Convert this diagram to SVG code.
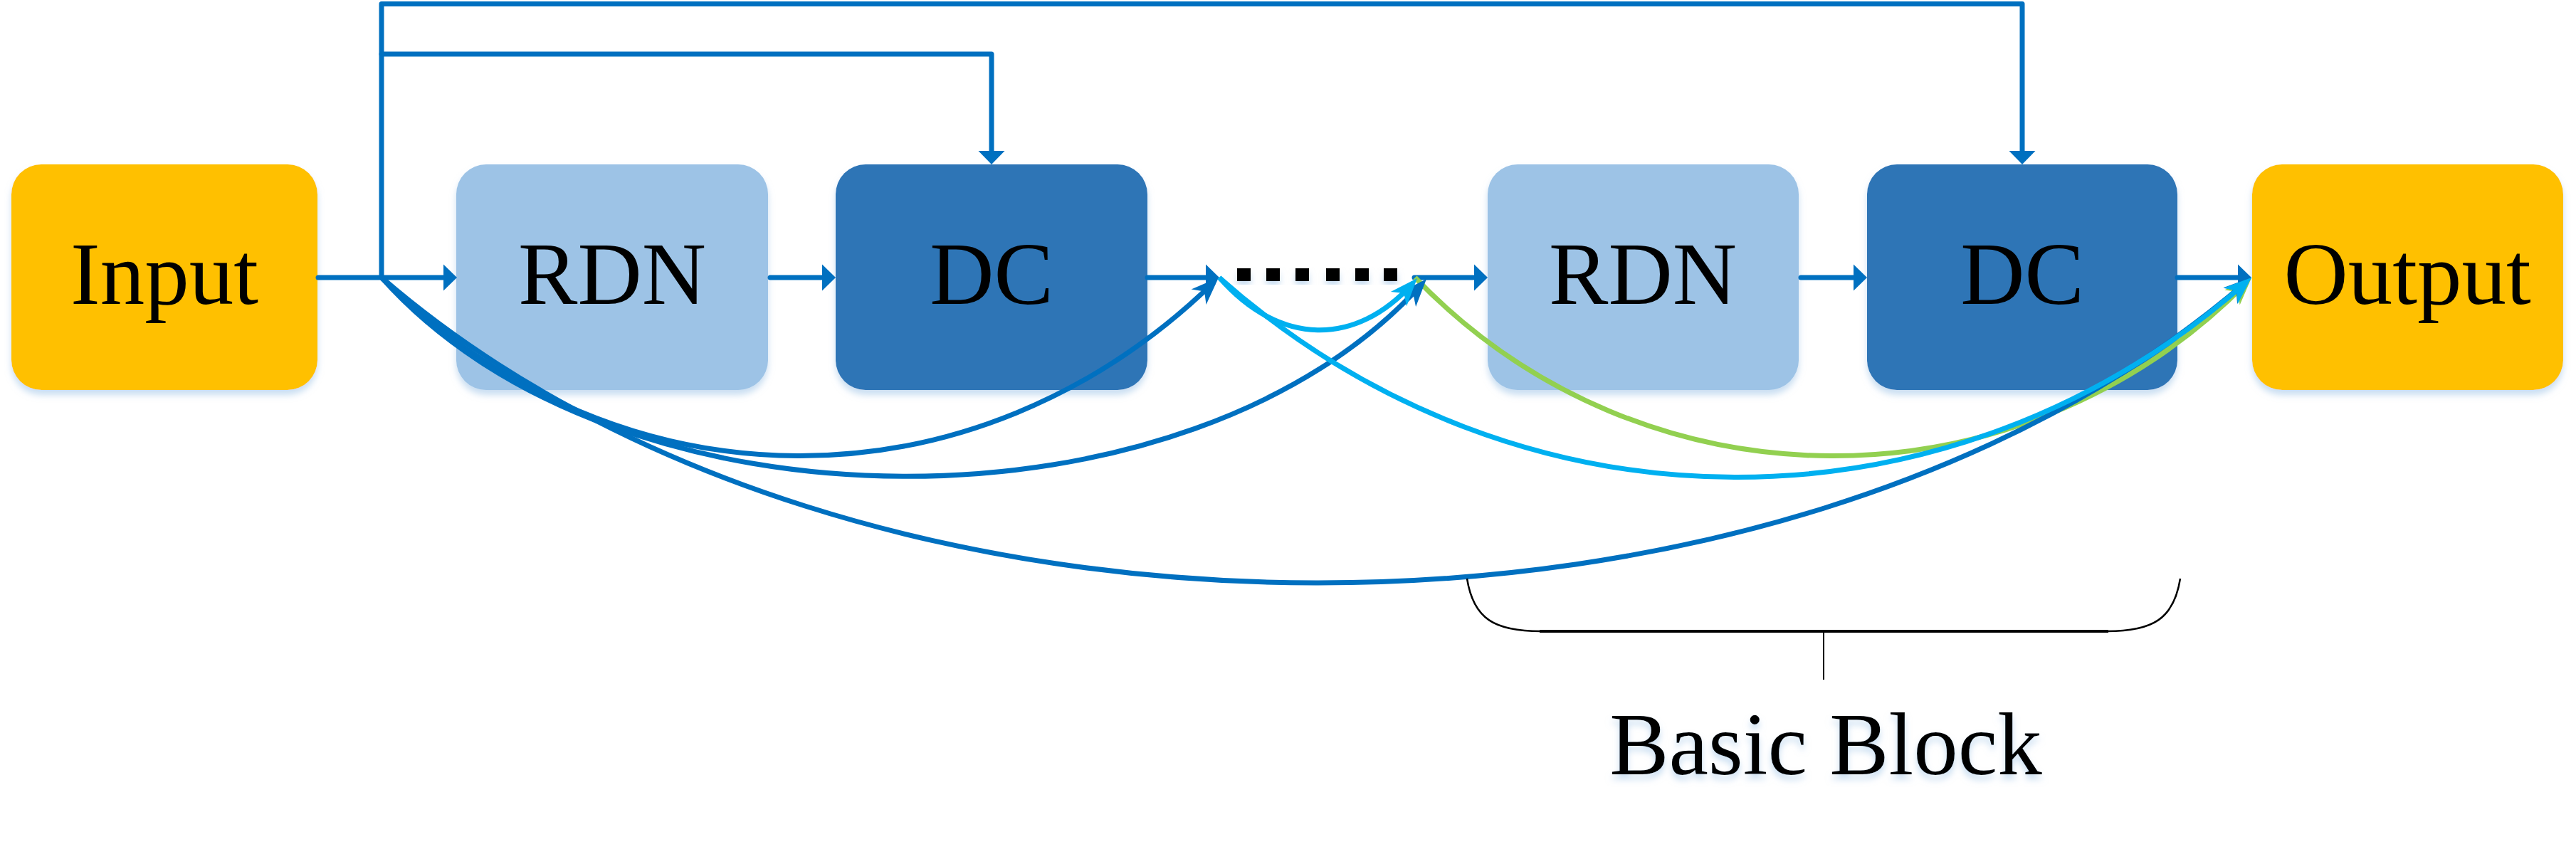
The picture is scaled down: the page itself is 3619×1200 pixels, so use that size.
<svg xmlns="http://www.w3.org/2000/svg" width="3619" height="1200" viewBox="0 0 3619 1200">
<style>
.box{filter:url(#sh);}
.lbl{font-family:"Liberation Serif","Times New Roman",serif;font-size:125px;fill:#000;text-anchor:middle;}
.ln{fill:none;stroke:#0070C0;stroke-width:7;stroke-linecap:round;stroke-linejoin:round;}
.cv{fill:none;stroke-width:7;stroke-linecap:butt;}
.dk{stroke:#0070C0;marker-end:url(#stD);}
.cy{stroke:#00B0F0;marker-end:url(#stC);}
.gr{stroke:#92D050;marker-end:url(#stG);}
.br{fill:none;stroke:#000;}
</style>
<defs>
<filter id="sh" x="-10%" y="-10%" width="120%" height="135%">
<feDropShadow dx="0" dy="7" stdDeviation="5" flood-color="#9DC3E6" flood-opacity="0.55"/>
</filter>
<marker id="tri" markerUnits="userSpaceOnUse" viewBox="0 -20 20 40" markerWidth="20" markerHeight="40" refX="0" refY="0" orient="auto" overflow="visible">
<path d="M0,-18.5 L19,0 L0,18.5 Z" fill="#0070C0"/>
</marker>
<marker id="stD" markerUnits="userSpaceOnUse" viewBox="-32 -17 44 34" markerWidth="44" markerHeight="34" refX="0" refY="0" orient="auto" overflow="visible">
<path d="M9,0 L-30,-15 L-19,0 L-30,15 Z" fill="#0070C0"/>
</marker>
<marker id="stC" markerUnits="userSpaceOnUse" viewBox="-32 -17 44 34" markerWidth="44" markerHeight="34" refX="0" refY="0" orient="auto" overflow="visible">
<path d="M9,0 L-30,-15 L-19,0 L-30,15 Z" fill="#00B0F0"/>
</marker>
<marker id="stG" markerUnits="userSpaceOnUse" viewBox="-32 -17 44 34" markerWidth="44" markerHeight="34" refX="0" refY="0" orient="auto" overflow="visible">
<path d="M9,0 L-30,-15 L-19,0 L-30,15 Z" fill="#92D050"/>
</marker>
</defs>
<rect width="3619" height="1200" fill="#FFFFFF"/>

<g id="input"><rect class="box" x="16" y="231" width="430" height="317" rx="42" fill="#FFC000"/><text class="lbl" x="231" y="427">Input</text></g>
<g id="rdn1"><rect class="box" x="641" y="231" width="438" height="317" rx="42" fill="#9DC3E6"/><text class="lbl" x="860" y="427">RDN</text></g>
<g id="dc1"><rect class="box" x="1174" y="231" width="438" height="317" rx="42" fill="#2E75B6"/><text class="lbl" x="1393" y="427">DC</text></g>
<g id="rdn2"><rect class="box" x="2090" y="231" width="437" height="317" rx="42" fill="#9DC3E6"/><text class="lbl" x="2308" y="427">RDN</text></g>
<g id="dc2"><rect class="box" x="2623" y="231" width="436" height="317" rx="42" fill="#2E75B6"/><text class="lbl" x="2841" y="427">DC</text></g>
<g id="output"><rect class="box" x="3164" y="231" width="437" height="317" rx="42" fill="#FFC000"/><text class="lbl" x="3382" y="427">Output</text></g>

<g id="dots" style="filter:url(#sh)" fill="#000">
<rect x="1738" y="377" width="19" height="18"/>
<rect x="1779" y="377" width="19" height="18"/>
<rect x="1820" y="377" width="19" height="18"/>
<rect x="1863" y="377" width="19" height="18"/>
<rect x="1904" y="377" width="19" height="18"/>
<rect x="1944" y="377" width="19" height="18"/>
</g>

<g id="connectors">
<path class="ln" d="M447,390 H623" marker-end="url(#tri)"/>
<path class="ln" d="M1082,390 H1155" marker-end="url(#tri)"/>
<path class="ln" d="M1612,390 H1694" marker-end="url(#tri)"/>
<path class="ln" d="M1987,390 H2071" marker-end="url(#tri)"/>
<path class="ln" d="M2530,390 H2604" marker-end="url(#tri)"/>
<path class="ln" d="M3059,390 H3144" marker-end="url(#tri)"/>
<path class="ln" d="M536,390 V5.5 H2841 V212" marker-end="url(#tri)"/>
<path class="ln" d="M536,76 H1393 V212" marker-end="url(#tri)"/>

<path class="cv gr" d="M1988,390 C2308,723 2836,723 3157,396.5"/>
<path class="cv dk" d="M536,390 C871,723 1370,723 1705.6,396.3"/>
<path class="cv dk" d="M536,390 C866,761 1672,761 1998,398.7"/>
<path class="cv dk" d="M536,390 C1196,961 2502,961 3156,396"/>
<path class="cv cy" d="M1713,390 C2133,763 2742,763 3156.3,396"/>
<path class="cv cy" d="M1713,390 C1798,487 1905,487 1985,397.8"/>
</g>

<g id="brace">
<path class="br" stroke-width="2.5" d="M2061,813 C2070,870 2100,887 2165,887"/>
<path class="br" stroke-width="2.5" d="M3063,813 C3054,870 3024,887 2960,887"/>
<path class="br" stroke-width="4" d="M2163,887 H2962"/>
<path class="br" stroke-width="2" d="M2562,887 V955"/>
</g>
<g id="basic-block-label"><text class="lbl" x="2565" y="1088" style="filter:url(#sh)">Basic Block</text></g>
</svg>
